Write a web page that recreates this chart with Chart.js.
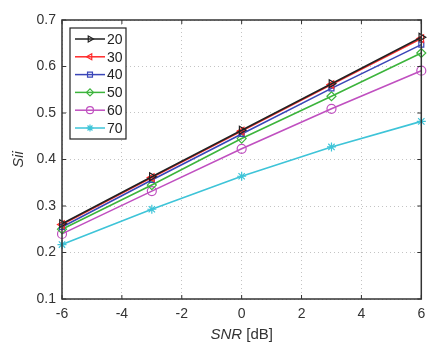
<!DOCTYPE html>
<html>
<head>
<meta charset="utf-8">
<script src="https://cdn.jsdelivr.net/npm/chart.js@4.4.1/dist/chart.umd.min.js"></script>
<style>
  html, body { margin: 0; padding: 0; background: #fff; }
  #wrap { width: 427px; height: 344px; }
</style>
</head>
<body>
<div id="wrap"><canvas id="siiChart" width="427" height="344"></canvas></div>
<script>
const snr = [-6, -3, 0, 3, 6];
const xTicks = [-6, -4, -2, 0, 2, 4, 6];
const yTicks = [0.1, 0.2, 0.3, 0.4, 0.5, 0.6, 0.7];

const s20 = [0.262, 0.363, 0.463, 0.563, 0.663];
const s30 = [0.260, 0.361, 0.461, 0.561, 0.660];
const s40 = [0.255, 0.356, 0.455, 0.553, 0.647];
const s50 = [0.250, 0.345, 0.445, 0.536, 0.629];
const s60 = [0.240, 0.332, 0.423, 0.509, 0.591];
const s70 = [0.217, 0.293, 0.364, 0.427, 0.482];

const labels = ['20', '30', '40', '50', '60', '70'];
const series = [s20, s30, s40, s50, s60, s70];
const colors = ['#222222', '#ff2a2a', '#3a46b8', '#3cb43c', '#c050c0', '#3ec4d8'];
const markers = ['triangle', 'triangle', 'rect', 'rectRot', 'circle', 'star'];
const rotations = [90, -90, 0, 0, 0, 0];

const font = "'Liberation Sans', Arial, sans-serif";

const datasets = series.map((vals, i) => ({
    label: labels[i],
    data: vals.map((v, j) => ({ x: snr[j], y: v })),
    borderColor: colors[i],
    backgroundColor: colors[i],
    pointBackgroundColor: i === 5 ? colors[i] : 'rgba(0,0,0,0)',
    pointBorderColor: colors[i],
    pointStyle: markers[i],
    pointRotation: rotations[i],
    pointRadius: i === 2 ? 3.5 : 4.5,
    pointBorderWidth: 1.2,
    borderWidth: 1.6,
    tension: 0,
    clip: 8
}));

// box, inward ticks, legend and axis titles
const decor = {
    id: 'decor',
    afterDraw(chart) {
        const c = chart.ctx;
        const a = chart.chartArea;
        const xs = chart.scales.x, ys = chart.scales.y;
        c.save();
        c.strokeStyle = '#333';
        c.lineWidth = 1.5;
        c.strokeRect(a.left, a.top, a.right - a.left, a.bottom - a.top);
        c.lineWidth = 1;
        xTicks.forEach(t => {
            const px = xs.getPixelForValue(t);
            c.beginPath();
            c.moveTo(px, a.bottom); c.lineTo(px, a.bottom - 4);
            c.moveTo(px, a.top); c.lineTo(px, a.top + 4);
            c.stroke();
        });
        yTicks.forEach(t => {
            const py = ys.getPixelForValue(t);
            c.beginPath();
            c.moveTo(a.left, py); c.lineTo(a.left + 4, py);
            c.moveTo(a.right, py); c.lineTo(a.right - 4, py);
            c.stroke();
        });

        // legend box
        const lx = 70, ly = 28, lw = 56, lh = 111;
        c.fillStyle = '#fff';
        c.fillRect(lx, ly, lw, lh);
        c.strokeStyle = '#222';
        c.lineWidth = 1.2;
        c.strokeRect(lx, ly, lw, lh);
        chart.data.datasets.forEach((ds, i) => {
            const yy = ly + 11 + i * 17.8;
            c.strokeStyle = ds.borderColor;
            c.lineWidth = 1.5;
            c.beginPath();
            c.moveTo(lx + 5, yy); c.lineTo(lx + 35, yy);
            c.stroke();
            c.fillStyle = ds.pointBackgroundColor;
            c.strokeStyle = ds.pointBorderColor;
            c.lineWidth = 1.2;
            Chart.helpers.drawPoint(c, {
                pointStyle: ds.pointStyle,
                rotation: ds.pointRotation,
                radius: 3.5,
                borderWidth: 1.2
            }, lx + 20, yy);
            c.fillStyle = '#222';
            c.font = '14px ' + font;
            c.textAlign = 'left';
            c.textBaseline = 'middle';
            c.fillText(ds.label, lx + 37, yy + 1);
        });

        // x title: italic SNR + [dB]
        c.fillStyle = '#333';
        c.textBaseline = 'alphabetic';
        c.font = 'italic 15px ' + font;
        const w1 = c.measureText('SNR').width;
        c.font = '15px ' + font;
        const w2 = c.measureText(' [dB]').width;
        const cx = (a.left + a.right) / 2;
        const sx = cx - (w1 + w2) / 2;
        c.font = 'italic 15px ' + font;
        c.textAlign = 'left';
        c.fillText('SNR', sx, 339);
        c.font = '15px ' + font;
        c.fillText(' [dB]', sx + w1, 339);

        // y title
        c.translate(23, (a.top + a.bottom) / 2);
        c.rotate(-Math.PI / 2);
        c.font = 'italic 15px ' + font;
        c.textAlign = 'center';
        c.fillText('Sii', 0, 0);
        c.restore();
    }
};

const ctx = document.getElementById('siiChart').getContext('2d');
const siiChart = new Chart(ctx, {
    type: 'line',
    data: { datasets: datasets },
    options: {
        responsive: false,
        animation: false,
        layout: { padding: { top: 20, right: 3, left: 0, bottom: 0 } },
        plugins: { legend: { display: false }, tooltip: { enabled: false } },
        scales: {
            x: {
                type: 'linear',
                min: -6,
                max: 6,
                afterBuildTicks: (axis) => { axis.ticks = xTicks.map(v => ({ value: v })); },
                afterFit: (axis) => {
                    axis.height = 45;
                    axis.paddingLeft = 0;
                    axis.paddingRight = 0;
                },
                ticks: {
                    color: '#333',
                    font: { family: font, size: 14 },
                    padding: 7,
                    maxRotation: 0,
                    callback: (v) => String(v)
                },
                grid: { color: '#c4c4c4', lineWidth: 1, drawTicks: false },
                border: { display: false, dash: [1, 3] }
            },
            y: {
                min: 0.1,
                max: 0.7,
                afterBuildTicks: (axis) => { axis.ticks = yTicks.map(v => ({ value: v })); },
                afterFit: (axis) => {
                    axis.width = 62;
                    axis.paddingTop = 0;
                    axis.paddingBottom = 0;
                },
                ticks: {
                    color: '#333',
                    font: { family: font, size: 14 },
                    padding: 6,
                    callback: (v) => v.toFixed(1)
                },
                grid: { color: '#c4c4c4', lineWidth: 1, drawTicks: false },
                border: { display: false, dash: [1, 3] }
            }
        }
    },
    plugins: [decor]
});
</script>
</body>
</html>
